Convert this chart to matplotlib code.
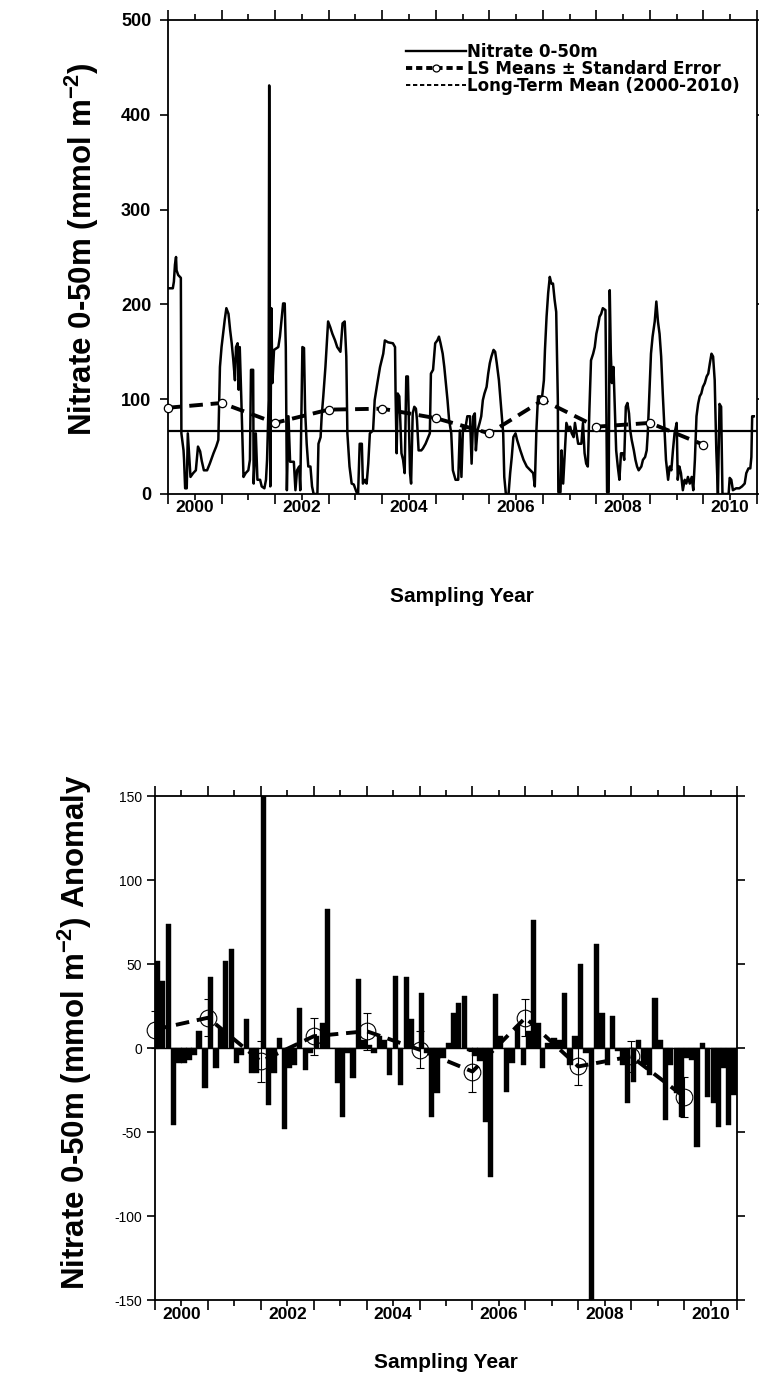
import matplotlib
matplotlib.use("Agg")
import matplotlib.pyplot as plt
from matplotlib.lines import Line2D
from matplotlib.ticker import FixedLocator, MultipleLocator, NullFormatter

plt.rcParams['font.family'] = ['Liberation Sans', 'DejaVu Sans']
plt.rcParams['mathtext.fontset'] = 'custom'
plt.rcParams['mathtext.rm'] = 'Liberation Sans:bold'
plt.rcParams['mathtext.bf'] = 'Liberation Sans:bold'
plt.rcParams['mathtext.default'] = 'bf'
plt.rcParams['axes.unicode_minus'] = False

# ---------------- data: top panel (nitrate 0-50m time series) ----------------
top_year = [2000.02, 2000.09, 2000.11, 2000.13, 2000.15, 2000.16, 2000.19, 2000.24, 2000.25, 2000.29,
            2000.30, 2000.32, 2000.35, 2000.37, 2000.40, 2000.42, 2000.47, 2000.52, 2000.56, 2000.60,
            2000.63, 2000.67, 2000.73, 2000.78, 2000.85, 2000.90, 2000.94, 2000.97, 2001.00, 2001.03,
            2001.06, 2001.09, 2001.13, 2001.16, 2001.19, 2001.22, 2001.25, 2001.27, 2001.30, 2001.32,
            2001.34, 2001.37, 2001.41, 2001.45, 2001.50, 2001.53, 2001.55, 2001.59, 2001.60, 2001.64,
            2001.67, 2001.72, 2001.75, 2001.80, 2001.83, 2001.85, 2001.88, 2001.89, 2001.91, 2001.93,
            2001.95, 2001.98, 2002.06, 2002.09, 2002.12, 2002.15, 2002.18, 2002.20, 2002.22, 2002.25,
            2002.28, 2002.35, 2002.38, 2002.41, 2002.45, 2002.47, 2002.51, 2002.54, 2002.56, 2002.59,
            2002.62, 2002.66, 2002.69, 2002.72, 2002.79, 2002.81, 2002.85, 2002.87, 2002.90, 2002.94,
            2002.99, 2003.03, 2003.07, 2003.12, 2003.16, 2003.22, 2003.26, 2003.30, 2003.33, 2003.35,
            2003.39, 2003.43, 2003.47, 2003.52, 2003.55, 2003.58, 2003.62, 2003.64, 2003.68, 2003.71,
            2003.74, 2003.77, 2003.83, 2003.86, 2003.91, 2003.96, 2004.02, 2004.05, 2004.11, 2004.20,
            2004.24, 2004.25, 2004.27, 2004.29, 2004.32, 2004.34, 2004.36, 2004.39, 2004.42, 2004.45,
            2004.48, 2004.52, 2004.54, 2004.57, 2004.60, 2004.63, 2004.65, 2004.68, 2004.73, 2004.76,
            2004.81, 2004.86, 2004.89, 2004.91, 2004.95, 2004.99, 2005.03, 2005.06, 2005.09, 2005.13,
            2005.16, 2005.19, 2005.22, 2005.25, 2005.29, 2005.32, 2005.37, 2005.42, 2005.45, 2005.48,
            2005.51, 2005.55, 2005.59, 2005.64, 2005.67, 2005.70, 2005.73, 2005.75, 2005.78, 2005.82,
            2005.85, 2005.88, 2005.91, 2005.95, 2005.98, 2006.01, 2006.04, 2006.08, 2006.11, 2006.14,
            2006.18, 2006.21, 2006.24, 2006.26, 2006.28, 2006.31, 2006.36, 2006.39, 2006.42, 2006.45,
            2006.49, 2006.52, 2006.58, 2006.64, 2006.70, 2006.77, 2006.82, 2006.85, 2006.88, 2006.91,
            2006.95, 2006.98, 2007.02, 2007.04, 2007.07, 2007.10, 2007.13, 2007.16, 2007.19, 2007.22,
            2007.25, 2007.28, 2007.29, 2007.33, 2007.35, 2007.38, 2007.41, 2007.44, 2007.48, 2007.51,
            2007.54, 2007.575, 2007.60, 2007.63, 2007.66, 2007.72, 2007.75, 2007.78, 2007.81, 2007.84,
            2007.87, 2007.90, 2007.94, 2007.97, 2008.00, 2008.03, 2008.06, 2008.09, 2008.12, 2008.17,
            2008.20, 2008.23, 2008.25, 2008.27, 2008.29, 2008.32, 2008.35, 2008.37, 2008.40, 2008.43,
            2008.46, 2008.50, 2008.52, 2008.55, 2008.58, 2008.61, 2008.63, 2008.66, 2008.70, 2008.73,
            2008.76, 2008.79, 2008.84, 2008.87, 2008.91, 2008.94, 2008.96, 2008.99, 2009.02, 2009.05,
            2009.09, 2009.12, 2009.15, 2009.18, 2009.21, 2009.24, 2009.27, 2009.30, 2009.34, 2009.37,
            2009.40, 2009.43, 2009.46, 2009.50, 2009.52, 2009.55, 2009.58, 2009.615, 2009.65, 2009.68,
            2009.71, 2009.745, 2009.78, 2009.81, 2009.84, 2009.87, 2009.90, 2009.93, 2009.96, 2009.99,
            2010.025, 2010.06, 2010.09, 2010.12, 2010.15, 2010.18, 2010.21, 2010.24, 2010.27, 2010.30,
            2010.33, 2010.355, 2010.42, 2010.47, 2010.49, 2010.52, 2010.55, 2010.61, 2010.67, 2010.72,
            2010.77, 2010.80, 2010.84, 2010.875, 2010.895, 2010.91, 2010.94]
top_val = [217, 217, 224, 242, 250, 236, 231, 228, 64, 46,
           36, 6, 6, 64, 36, 18, 22, 25, 50, 45,
           35, 25, 25, 32, 43, 50, 57, 134, 155, 170,
           184, 196, 190, 173, 159, 141, 120, 155, 159, 110,
           155, 99, 18, 22, 25, 36, 131, 131, 11, 64,
           15, 15, 8, 6, 15, 36, 99, 431, 8, 196,
           117, 152, 155, 166, 184, 201, 201, 155, 4, 82,
           34, 34, 4, 25, 29, 4, 155, 154, 89, 53,
           29, 29, 8, 0, 0, 53, 60, 82, 103, 134,
           182, 176, 169, 162, 155, 150, 180, 182, 145, 64,
           29, 11, 10, 2, 0, 53, 53, 11, 15, 11,
           32, 64, 67, 99, 117, 134, 148, 162, 160, 159,
           155, 106, 43, 106, 103, 75, 43, 36, 22, 124,
           124, 22, 11, 85, 92, 90, 78, 46, 46, 48,
           53, 60, 64, 127, 131, 159, 162, 166, 159, 148,
           134, 117, 99, 78, 64, 25, 15, 15, 67, 18,
           71, 68, 82, 82, 32, 82, 85, 46, 67, 75,
           82, 99, 106, 113, 127, 138, 145, 152, 150, 138,
           120, 99, 78, 64, 18, 0, 0, 22, 39, 60,
           64, 57, 46, 36, 29, 25, 22, 8, 67, 103,
           103, 99, 120, 152, 187, 212, 229, 222, 222, 205,
           192, 100, 2, 2, 46, 11, 43, 75, 68, 71,
           64, 60, 75, 64, 53, 53, 75, 43, 32, 29,
           89, 141, 148, 155, 169, 177, 187, 190, 196, 194,
           2, 2, 215, 148, 117, 134, 82, 46, 29, 15,
           43, 43, 36, 92, 96, 85, 68, 57, 46, 36,
           29, 25, 29, 36, 39, 46, 64, 106, 148, 166,
           182, 203, 182, 169, 145, 106, 71, 36, 15, 29,
           25, 46, 64, 75, 15, 29, 22, 4, 15, 11,
           18, 11, 18, 4, 36, 82, 95, 103, 106, 113,
           117, 124, 127, 138, 148, 145, 120, 46, 0, 95,
           92, 0, 0, 0, 17, 15, 4, 6, 6, 8,
           11, 22, 27, 27, 39, 82, 82]

long_term_mean = 66.5

ls_year = [2000, 2001, 2002, 2003, 2004, 2005, 2006, 2007, 2008, 2009, 2010]
top_ls_mean = [91, 96, 75, 89, 90, 80, 64, 99, 71, 75, 52]

# ---------------- data: bottom panel (anomaly bars) ----------------
anom_year = [2000.044, 2000.145, 2000.252, 2000.347, 2000.454, 2000.548, 2000.643, 2000.737, 2000.832, 2000.945,
             2001.052, 2001.153, 2001.241, 2001.336, 2001.449, 2001.544, 2001.638, 2001.733, 2001.827, 2001.922,
             2002.048, 2002.149, 2002.250, 2002.350, 2002.445, 2002.539, 2002.628, 2002.735, 2002.842, 2002.943,
             2003.056, 2003.163, 2003.258, 2003.359, 2003.453, 2003.548, 2003.636, 2003.743, 2003.844, 2003.951,
             2004.051, 2004.140, 2004.241, 2004.329, 2004.436, 2004.543, 2004.644, 2004.751, 2004.852, 2004.946,
             2005.041, 2005.135, 2005.230, 2005.331, 2005.444, 2005.545, 2005.639, 2005.740, 2005.847, 2005.954,
             2006.049, 2006.143, 2006.244, 2006.345, 2006.440, 2006.534, 2006.641, 2006.748, 2006.855, 2006.963,
             2007.057, 2007.152, 2007.240, 2007.328, 2007.429, 2007.543, 2007.637, 2007.744, 2007.845, 2007.940,
             2008.040, 2008.148, 2008.248, 2008.349, 2008.450, 2008.551, 2008.645, 2008.740, 2008.841, 2008.935,
             2009.042, 2009.143, 2009.244, 2009.351, 2009.452, 2009.553, 2009.654, 2009.748, 2009.855, 2009.956,
             2010.050, 2010.145, 2010.246, 2010.347, 2010.447, 2010.555, 2010.656, 2010.750, 2010.845, 2010.945]
anom_val = [52, 40, 74, -46, -9, -9, -7, -4, 10, -24,
            42, -12, 12, 52, 59, -9, -4, 17, -15, -15,
            150, -34, -15, 6, -48, -12, -10, 24, -13, -3,
            7, 15, 83, 0, -21, -41, -3, -18, 41, 5,
            2, -3, 7, 5, -16, 43, -22, 42, 17, 0,
            33, -3, -41, -27, -6, 3, 21, 27, 31, -2,
            -5, -8, -44, -77, 32, 7, -26, -9, 13, -10,
            10, 76, 15, -12, 3, 6, 5, 33, -10, 7,
            50, -3, -150, 62, 21, -10, 19, -2, -10, -33,
            -20, 5, -10, -16, 30, 5, -43, -10, -27, -41,
            -6, -7, -59, 3, -29, -33, -47, -12, -46, -28]

anom_ls_mean = [11, 18, -8, 7, 10, -1, -14, 18, -11, -5, -29]
anom_ls_se = [11, 11, 12, 11, 11, 11, 12, 11, 11, 9, 12]

year_label_pos = [2000.5, 2002.5, 2004.5, 2006.5, 2008.5, 2010.5]
year_labels = ['2000', '2002', '2004', '2006', '2008', '2010']

# ---------------- figure ----------------
W, H = 759, 1387
fig = plt.figure(figsize=(W / 100, H / 100), dpi=100)
fig.patch.set_facecolor('white')


def style_xaxis(ax):
    ax.set_xlim(2000, 2011)
    ax.xaxis.set_major_locator(FixedLocator(list(range(2000, 2012))))
    ax.xaxis.set_minor_locator(FixedLocator([y + 0.5 for y in range(2000, 2011)]))
    ax.xaxis.set_major_formatter(NullFormatter())
    ax.tick_params(axis='x', which='major', direction='out', length=7, width=1.2,
                   top=True, bottom=True)
    ax.tick_params(axis='x', which='minor', direction='out', length=4, width=1.2,
                   top=True, bottom=True)
    for p, t in zip(year_label_pos, year_labels):
        ax.text(p, -0.013, t, transform=ax.get_xaxis_transform(), ha='center', va='top',
                fontsize=12.5, fontweight='bold')
    for s in ax.spines.values():
        s.set_linewidth(1.3)


# top panel
ax1 = fig.add_axes([168 / W, 1 - 494 / H, 589 / W, 474 / H])
ax1.plot(top_year, top_val, color='black', lw=1.8, zorder=3)
ax1.axhline(long_term_mean, color='black', lw=1.6, zorder=2)
ax1.plot(ls_year, top_ls_mean, color='black', lw=2.8, dashes=(3.5, 2), zorder=4,
         marker='o', ms=6, mfc='white', mec='black', mew=0.9, clip_on=False)
ax1.set_ylim(0, 500)
ax1.yaxis.set_major_locator(MultipleLocator(100))
ax1.tick_params(axis='y', which='major', direction='out', length=6, width=1.2,
                left=True, right=True, labelsize=13, pad=6)
for lab in ax1.get_yticklabels():
    lab.set_fontweight('bold')
style_xaxis(ax1)

handles = [Line2D([], [], color='black', lw=1.7),
           Line2D([], [], color='black', lw=2.8, dashes=(1.6, 1.0), marker='o', ms=5,
                  mfc='white', mec='black', mew=0.9),
           Line2D([], [], color='black', lw=1.4, dashes=(2.2, 1.4))]
labels = ['Nitrate 0-50m', 'LS Means \u00b1 Standard Error', 'Long-Term Mean (2000-2010)']
leg = ax1.legend(handles, labels, loc='upper right', bbox_to_anchor=(0.985, 0.97), frameon=False,
                 prop={'family': 'DejaVu Sans', 'weight': 'bold', 'size': 12}, handlelength=3.6,
                 handletextpad=0.1, labelspacing=-0.05, borderaxespad=0.1)

# bottom panel
ax2 = fig.add_axes([155 / W, 1 - 1300 / H, 582 / W, 504 / H])
ax2.bar(anom_year, anom_val, width=0.1, color='black', edgecolor='black', lw=0.3, zorder=2)
ax2.axhline(0, color='black', lw=1.0, zorder=3)
ax2.errorbar(ls_year, anom_ls_mean, yerr=anom_ls_se, fmt='none', ecolor='black', elinewidth=0.8,
             capsize=3, capthick=0.8, zorder=4, clip_on=False)
ax2.plot(ls_year, anom_ls_mean, color='black', lw=2.8, dashes=(3.5, 2), zorder=5,
         marker='o', ms=12, mfc='none', mec='black', mew=0.8, clip_on=False)
ax2.set_ylim(-150, 150)
ax2.yaxis.set_major_locator(MultipleLocator(50))
ax2.tick_params(axis='y', which='major', direction='out', length=6, width=1.2,
                left=True, right=True, labelsize=10)
style_xaxis(ax2)

# axis titles
fig.text(462 / W, 1 - 597 / H, 'Sampling Year', ha='center', va='center',
         fontsize=15, fontweight='bold')
fig.text(446 / W, 1 - 1362 / H, 'Sampling Year', ha='center', va='center',
         fontsize=15, fontweight='bold')
fig.text(82 / W, 1 - 249 / H, r'Nitrate 0-50m (mmol m$^{-2}$)', ha='center', va='center',
         rotation=90, fontsize=22.5, fontweight='bold')
fig.text(75 / W, 1 - 1032 / H, r'Nitrate 0-50m (mmol m$^{-2}$) Anomaly', ha='center',
         va='center', rotation=90, fontsize=22.5, fontweight='bold')

fig.savefig('out.png', dpi=100, facecolor='white')
